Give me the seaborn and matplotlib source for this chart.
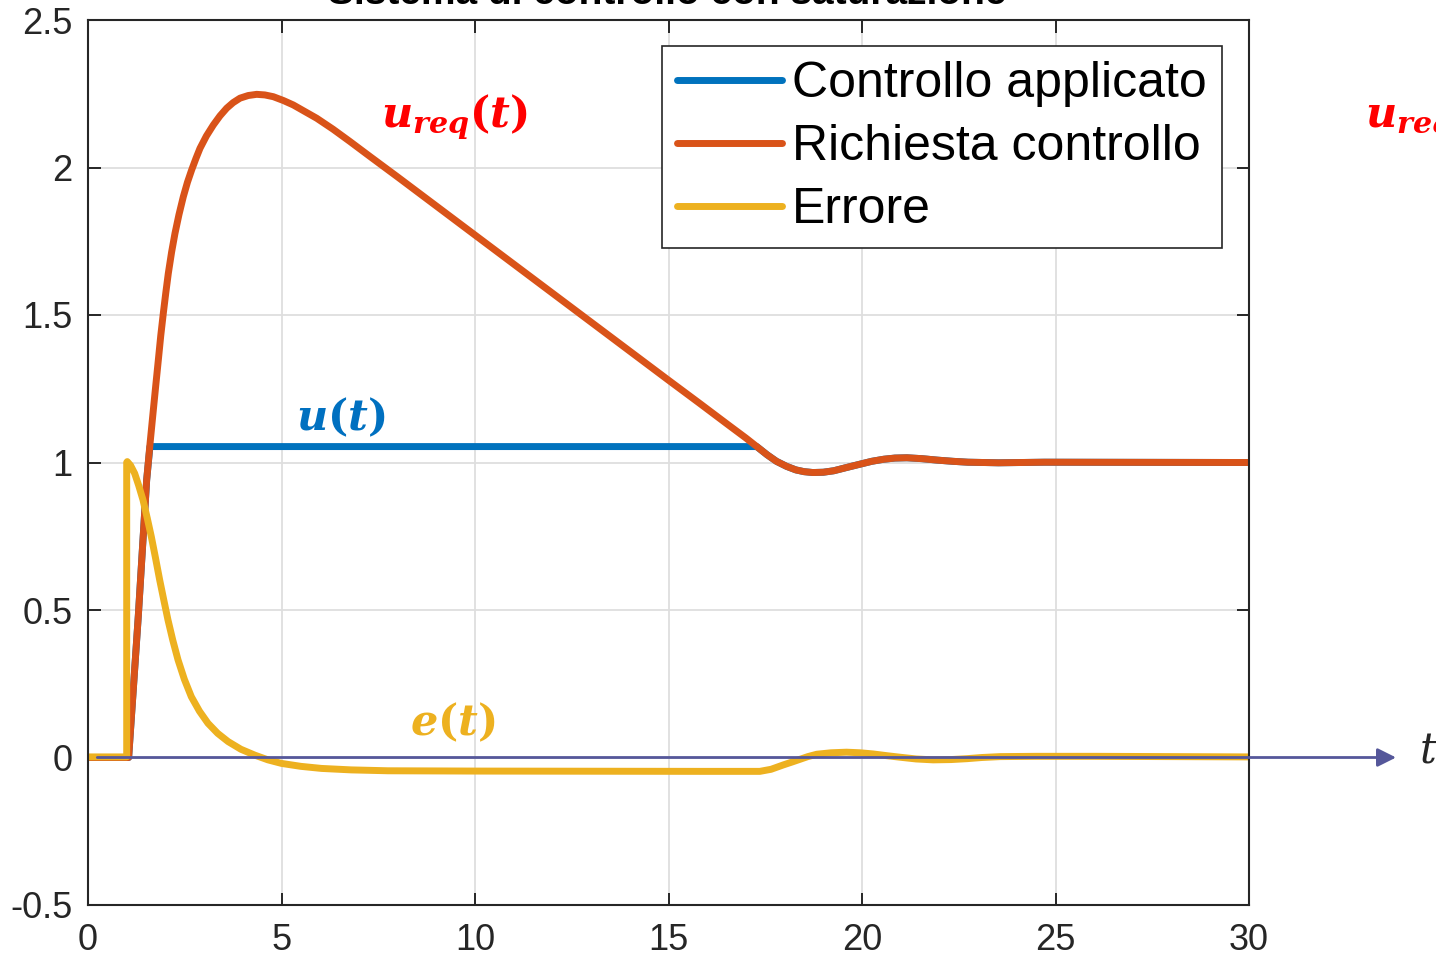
import numpy as np
import pandas as pd
import seaborn as sns
import matplotlib.pyplot as plt

# valori (tempo, segnale)
t_req = [0, 1.05, 1.3, 1.516, 1.6, 1.688, 1.75, 1.817, 1.88, 1.946, 2.01,
         2.075, 2.16, 2.248, 2.35, 2.463, 2.57, 2.679, 2.79, 2.894, 3.06,
         3.238, 3.41, 3.583, 3.75, 3.928, 4.14, 4.359, 4.57, 4.789, 5.05,
         5.305, 5.6, 5.909, 6.33, 6.77, 7.3, 8.0, 10.0, 12.5, 15.0, 15.81,
         16.56, 17.0, 17.3, 17.55, 17.79, 18.05, 18.29, 18.5, 18.73, 19.0,
         19.27, 19.6, 19.97, 20.25, 20.56, 20.85, 21.16, 21.55, 21.95, 22.35,
         22.74, 23.53, 24.71, 30.0]
u_req = [0, 0, 0.48, 0.941, 1.06, 1.178, 1.26, 1.347, 1.43, 1.506, 1.575,
         1.641, 1.713, 1.777, 1.84, 1.901, 1.95, 1.992, 2.031, 2.065, 2.107,
         2.144, 2.175, 2.201, 2.22, 2.235, 2.244, 2.248, 2.246, 2.24, 2.227,
         2.212, 2.19, 2.167, 2.13, 2.088, 2.036, 1.968, 1.771, 1.525, 1.279,
         1.2, 1.126, 1.083, 1.052, 1.026, 1.004, 0.987, 0.975, 0.969, 0.966,
         0.967, 0.972, 0.983, 0.995, 1.004, 1.011, 1.015, 1.016, 1.013,
         1.008, 1.004, 1.001, 0.999, 1.001, 1.0]

t_app = [0, 1.05, 1.3, 1.516, 1.6, 17.28, 17.55, 17.79, 18.05, 18.29, 18.5,
         18.73, 19.0, 19.27, 19.6, 19.97, 20.25, 20.56, 20.85, 21.16, 21.55,
         21.95, 22.35, 22.74, 23.53, 24.71, 30.0]
u_app = [0, 0, 0.48, 0.941, 1.054, 1.054, 1.026, 1.004, 0.987, 0.975, 0.969,
         0.966, 0.967, 0.972, 0.983, 0.995, 1.004, 1.011, 1.015, 1.016, 1.013,
         1.008, 1.004, 1.001, 0.999, 1.001, 1.0]

t_err = [0, 1.0, 1.0, 1.015, 1.1, 1.206, 1.31, 1.421, 1.53, 1.637, 1.745,
         1.852, 1.96, 2.067, 2.19, 2.326, 2.49, 2.67, 2.88, 3.10, 3.35, 3.62,
         3.95, 4.31, 4.65, 5.0, 5.5, 6.03, 6.8, 7.75, 10.0, 15.81, 17.36,
         17.65, 17.97, 18.2, 18.40, 18.6, 18.83, 19.2, 19.60, 19.95, 20.29,
         20.65, 20.98, 21.4, 21.84, 22.3, 22.71, 23.1, 23.57, 24.5, 26.0, 30.0]
err = [0.002, 0.002, 1.0, 1.003, 0.99, 0.963, 0.922, 0.873, 0.812, 0.748,
       0.676, 0.602, 0.533, 0.466, 0.398, 0.331, 0.265, 0.206, 0.157, 0.116,
       0.082, 0.054, 0.028, 0.008, -0.008, -0.020, -0.030, -0.037, -0.042,
       -0.045, -0.046, -0.047, -0.047, -0.040, -0.025, -0.015, -0.006, 0.003,
       0.011, 0.016, 0.018, 0.016, 0.012, 0.006, 0.001, -0.005, -0.008,
       -0.007, -0.004, 0.0, 0.003, 0.004, 0.004, 0.002]

x_ticks = [0, 5, 10, 15, 20, 25, 30]
y_ticks = [-0.5, 0, 0.5, 1, 1.5, 2, 2.5]

sns.set_theme(style="whitegrid")
plt.rcParams['font.family'] = ['Liberation Sans', 'DejaVu Sans']
plt.rcParams['mathtext.fontset'] = 'custom'
plt.rcParams['mathtext.it'] = 'DejaVu Serif:italic:bold'
plt.rcParams['mathtext.rm'] = 'DejaVu Serif:bold'
plt.rcParams['mathtext.bf'] = 'DejaVu Serif:bold'

fig = plt.figure(figsize=(14.36, 9.57), dpi=100)
ax = fig.add_axes([88 / 1436, 1 - 905 / 957, 1161 / 1436, 885 / 957])
ax.set_facecolor('white')

blue, orange, yellow = '#0072BD', '#D95319', '#EDB120'
lw = 5
sns.lineplot(x=t_app, y=u_app, ax=ax, color=blue, linewidth=lw,
             estimator=None, sort=False, label='Controllo applicato')
sns.lineplot(x=t_req, y=u_req, ax=ax, color=orange, linewidth=lw,
             estimator=None, sort=False, label='Richiesta controllo')
sns.lineplot(x=t_err, y=err, ax=ax, color=yellow, linewidth=lw,
             estimator=None, sort=False, label='Errore')

ax.set_xlim(0, 30)
ax.set_ylim(-0.5, 2.5)
ax.set_xticks(x_ticks)
ax.set_yticks(y_ticks)
ax.set_xticklabels([str(v) for v in x_ticks])
ax.set_yticklabels(['-0.5', '0', '0.5', '1', '1.5', '2', '2.5'])
ax.grid(True, color='#dedede', linewidth=1.3)
ax.tick_params(direction='in', length=9, width=1.4, colors='#262626',
               labelsize=26, top=True, right=True, bottom=True, left=True)
ax.tick_params(axis='x', pad=13)
ax.tick_params(axis='y', pad=11)
for s in ax.spines.values():
    s.set_color('#262626')
    s.set_linewidth(1.5)
ax.set_xlabel('')
ax.set_ylabel('')

leg = ax.legend(loc='upper right', bbox_to_anchor=(0.9767, 0.9706),
                borderaxespad=0, fontsize=36, handlelength=2.1,
                handletextpad=0.2, labelspacing=0.34, borderpad=0.3,
                fancybox=False, framealpha=1, edgecolor='#262626')
leg.get_frame().set_linewidth(1.2)
for line in leg.get_lines():
    line.set_linewidth(lw)
for txt in leg.get_texts():
    txt.set_color('black')

# asse dei tempi con freccia
ax.annotate('', xy=(33.8, 0), xytext=(0.24, 0),
            arrowprops=dict(arrowstyle='-|>', color='#55579a', lw=2,
                            mutation_scale=28, shrinkA=0, shrinkB=0),
            annotation_clip=False, zorder=6)
ax.text(34.42, 0.022, 't', fontsize=30, family='DejaVu Serif',
        style='italic', va='center', ha='left', clip_on=False)

ax.text(9.48, 2.171, r'$u_{req}(t)$', color='#FF0000', fontsize=31,
        ha='center', va='center')
ax.text(33.0, 2.171, r'$u_{req}(t)$', color='#FF0000', fontsize=31,
        ha='left', va='center', clip_on=False)
ax.text(6.54, 1.151, r'$u(t)$', color='#0070C0', fontsize=31,
        ha='center', va='center')
ax.text(9.44, 0.120, r'$e(t)$', color=yellow, fontsize=31,
        ha='center', va='center')

fig.text(0.4648, 1 - 4 / 957, 'Sistema di controllo con saturazione',
         ha='center', va='baseline', fontsize=28, fontweight='bold',
         color='black')

fig.savefig('out.png', dpi=100, facecolor='white')
